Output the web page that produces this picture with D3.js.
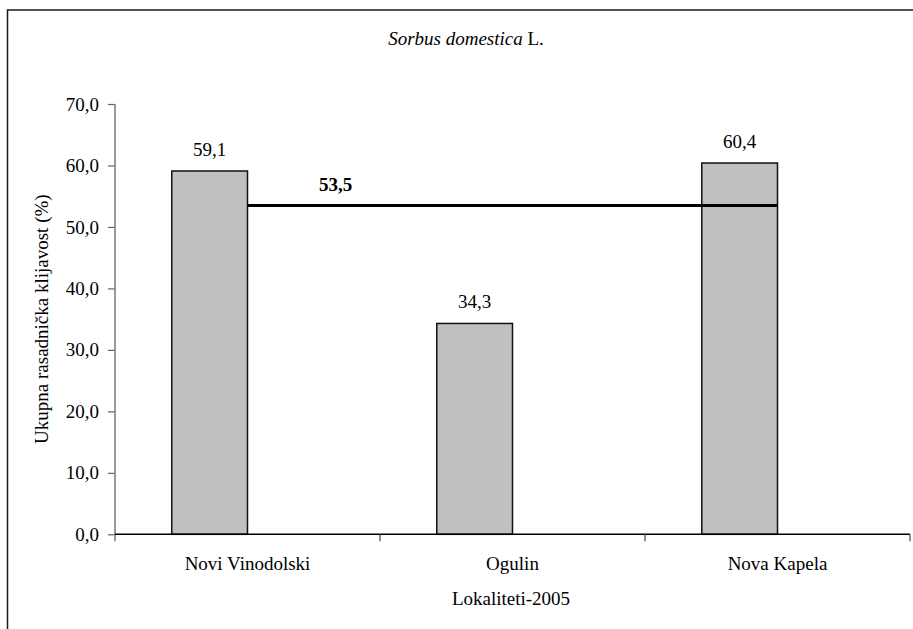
<!DOCTYPE html>
<html>
<head>
<meta charset="utf-8">
<script src="https://cdn.jsdelivr.net/npm/d3@7"></script>
<style>
  html, body { margin: 0; padding: 0; background: #fff; }
  svg { display: block; }
  text { font-family: "Liberation Serif", "Times New Roman", serif; fill: #000; }
</style>
</head>
<body>
<svg id="chart" width="913" height="629"></svg>
<script>
// ---- data ----
const categories = ["Novi Vinodolski", "Ogulin", "Nova Kapela"];
const values = [59.1, 34.3, 60.4];
const averageValues = [53.5, 53.5, 53.5];
const averageLabel = "53,5";
const yTicks = [0, 10, 20, 30, 40, 50, 60, 70];
const titleItalic = "Sorbus domestica";
const titleRest = " L.";
const yTitle = "Ukupna rasadnička klijavost (%)";
const xTitle = "Lokaliteti-2005";

// ---- layout ----
const W = 913, H = 629;
const plot = { left: 115, right: 910, top: 104, bottom: 534.3 };
const fs = 19;
const fmt = v => d3.format(".1f")(v).replace(".", ",");

const svg = d3.select("#chart");

// outer frame (extends past right and bottom)
svg.append("path")
  .attr("d", `M7.5,${H + 5} L7.5,10 L${W + 5},10`)
  .attr("fill", "none").attr("stroke", "#1a1a1a").attr("stroke-width", 1.5);

const x = d3.scaleBand().domain(categories).range([plot.left, plot.right]).paddingInner(0).paddingOuter(0);
const xs = d3.scaleBand().domain(["bar", "avg"]).range([0, x.bandwidth()]).paddingInner(0).paddingOuter(0.75);
const y = d3.scaleLinear().domain([0, 70]).range([plot.bottom, plot.top]);

// title
const t = svg.append("text").attr("x", 466).attr("y", 45).attr("text-anchor", "middle").attr("font-size", fs);
t.append("tspan").attr("font-style", "italic").text(titleItalic);
t.append("tspan").text(titleRest);

// y axis
const yAxis = svg.append("g").attr("transform", `translate(${plot.left},0)`)
  .call(d3.axisLeft(y).tickValues(yTicks).tickSize(7).tickPadding(9).tickFormat(fmt));
yAxis.select(".domain").remove();
yAxis.append("line").attr("x1", 0).attr("x2", 0).attr("y1", plot.top).attr("y2", plot.bottom + 7)
  .attr("stroke", "#777").attr("stroke-width", 1.5);
yAxis.selectAll(".tick line").attr("stroke", "#666").attr("stroke-width", 1.2);
yAxis.selectAll(".tick text").attr("font-size", fs).attr("font-family", "Liberation Serif").attr("fill", "#000");

// bars
svg.append("g").selectAll("rect").data(categories).join("rect")
  .attr("x", (d) => x(d) + xs("bar"))
  .attr("width", xs.bandwidth())
  .attr("y", (d, i) => y(values[i]))
  .attr("height", (d, i) => y(0) - y(values[i]))
  .attr("fill", "#c0c0c0").attr("stroke", "#111").attr("stroke-width", 1.5);

// bar value labels
svg.append("g").selectAll("text").data(categories).join("text")
  .attr("x", (d) => x(d) + xs("bar") + xs.bandwidth() / 2)
  .attr("y", (d, i) => y(values[i]) - 15)
  .attr("text-anchor", "middle").attr("font-size", fs)
  .text((d, i) => fmt(values[i]));

// x axis
const xa = svg.append("g");
xa.append("line").attr("x1", plot.left).attr("x2", plot.right).attr("y1", plot.bottom).attr("y2", plot.bottom)
  .attr("stroke", "#000").attr("stroke-width", 1.5);
const bounds = categories.map(c => x(c)).concat([x(categories[categories.length - 1]) + x.bandwidth()]);
xa.selectAll("line.tk").data(bounds.slice(1)).join("line").attr("class", "tk")
  .attr("x1", d => d).attr("x2", d => d).attr("y1", plot.bottom).attr("y2", plot.bottom + 7)
  .attr("stroke", "#444").attr("stroke-width", 1.2);
xa.selectAll("text").data(categories).join("text")
  .attr("x", d => x(d) + x.bandwidth() / 2)
  .attr("y", 570).attr("text-anchor", "middle").attr("font-size", fs)
  .text(d => d);

// average line
const line = d3.line().x((d, i) => x(categories[i]) + x.bandwidth() / 2).y(d => y(d));
svg.append("path").datum(averageValues).attr("d", line)
  .attr("fill", "none").attr("stroke", "#000").attr("stroke-width", 3);
svg.append("text").attr("x", 335.5).attr("y", y(averageValues[0]) - 14)
  .attr("text-anchor", "middle").attr("font-size", fs).attr("font-weight", "bold")
  .text(averageLabel);

// axis titles
svg.append("text").attr("transform", `translate(48,${(plot.top + plot.bottom) / 2}) rotate(-90)`)
  .attr("text-anchor", "middle").attr("font-size", fs).text(yTitle);
svg.append("text").attr("x", 511).attr("y", 605).attr("text-anchor", "middle").attr("font-size", fs).text(xTitle);
</script>
</body>
</html>
